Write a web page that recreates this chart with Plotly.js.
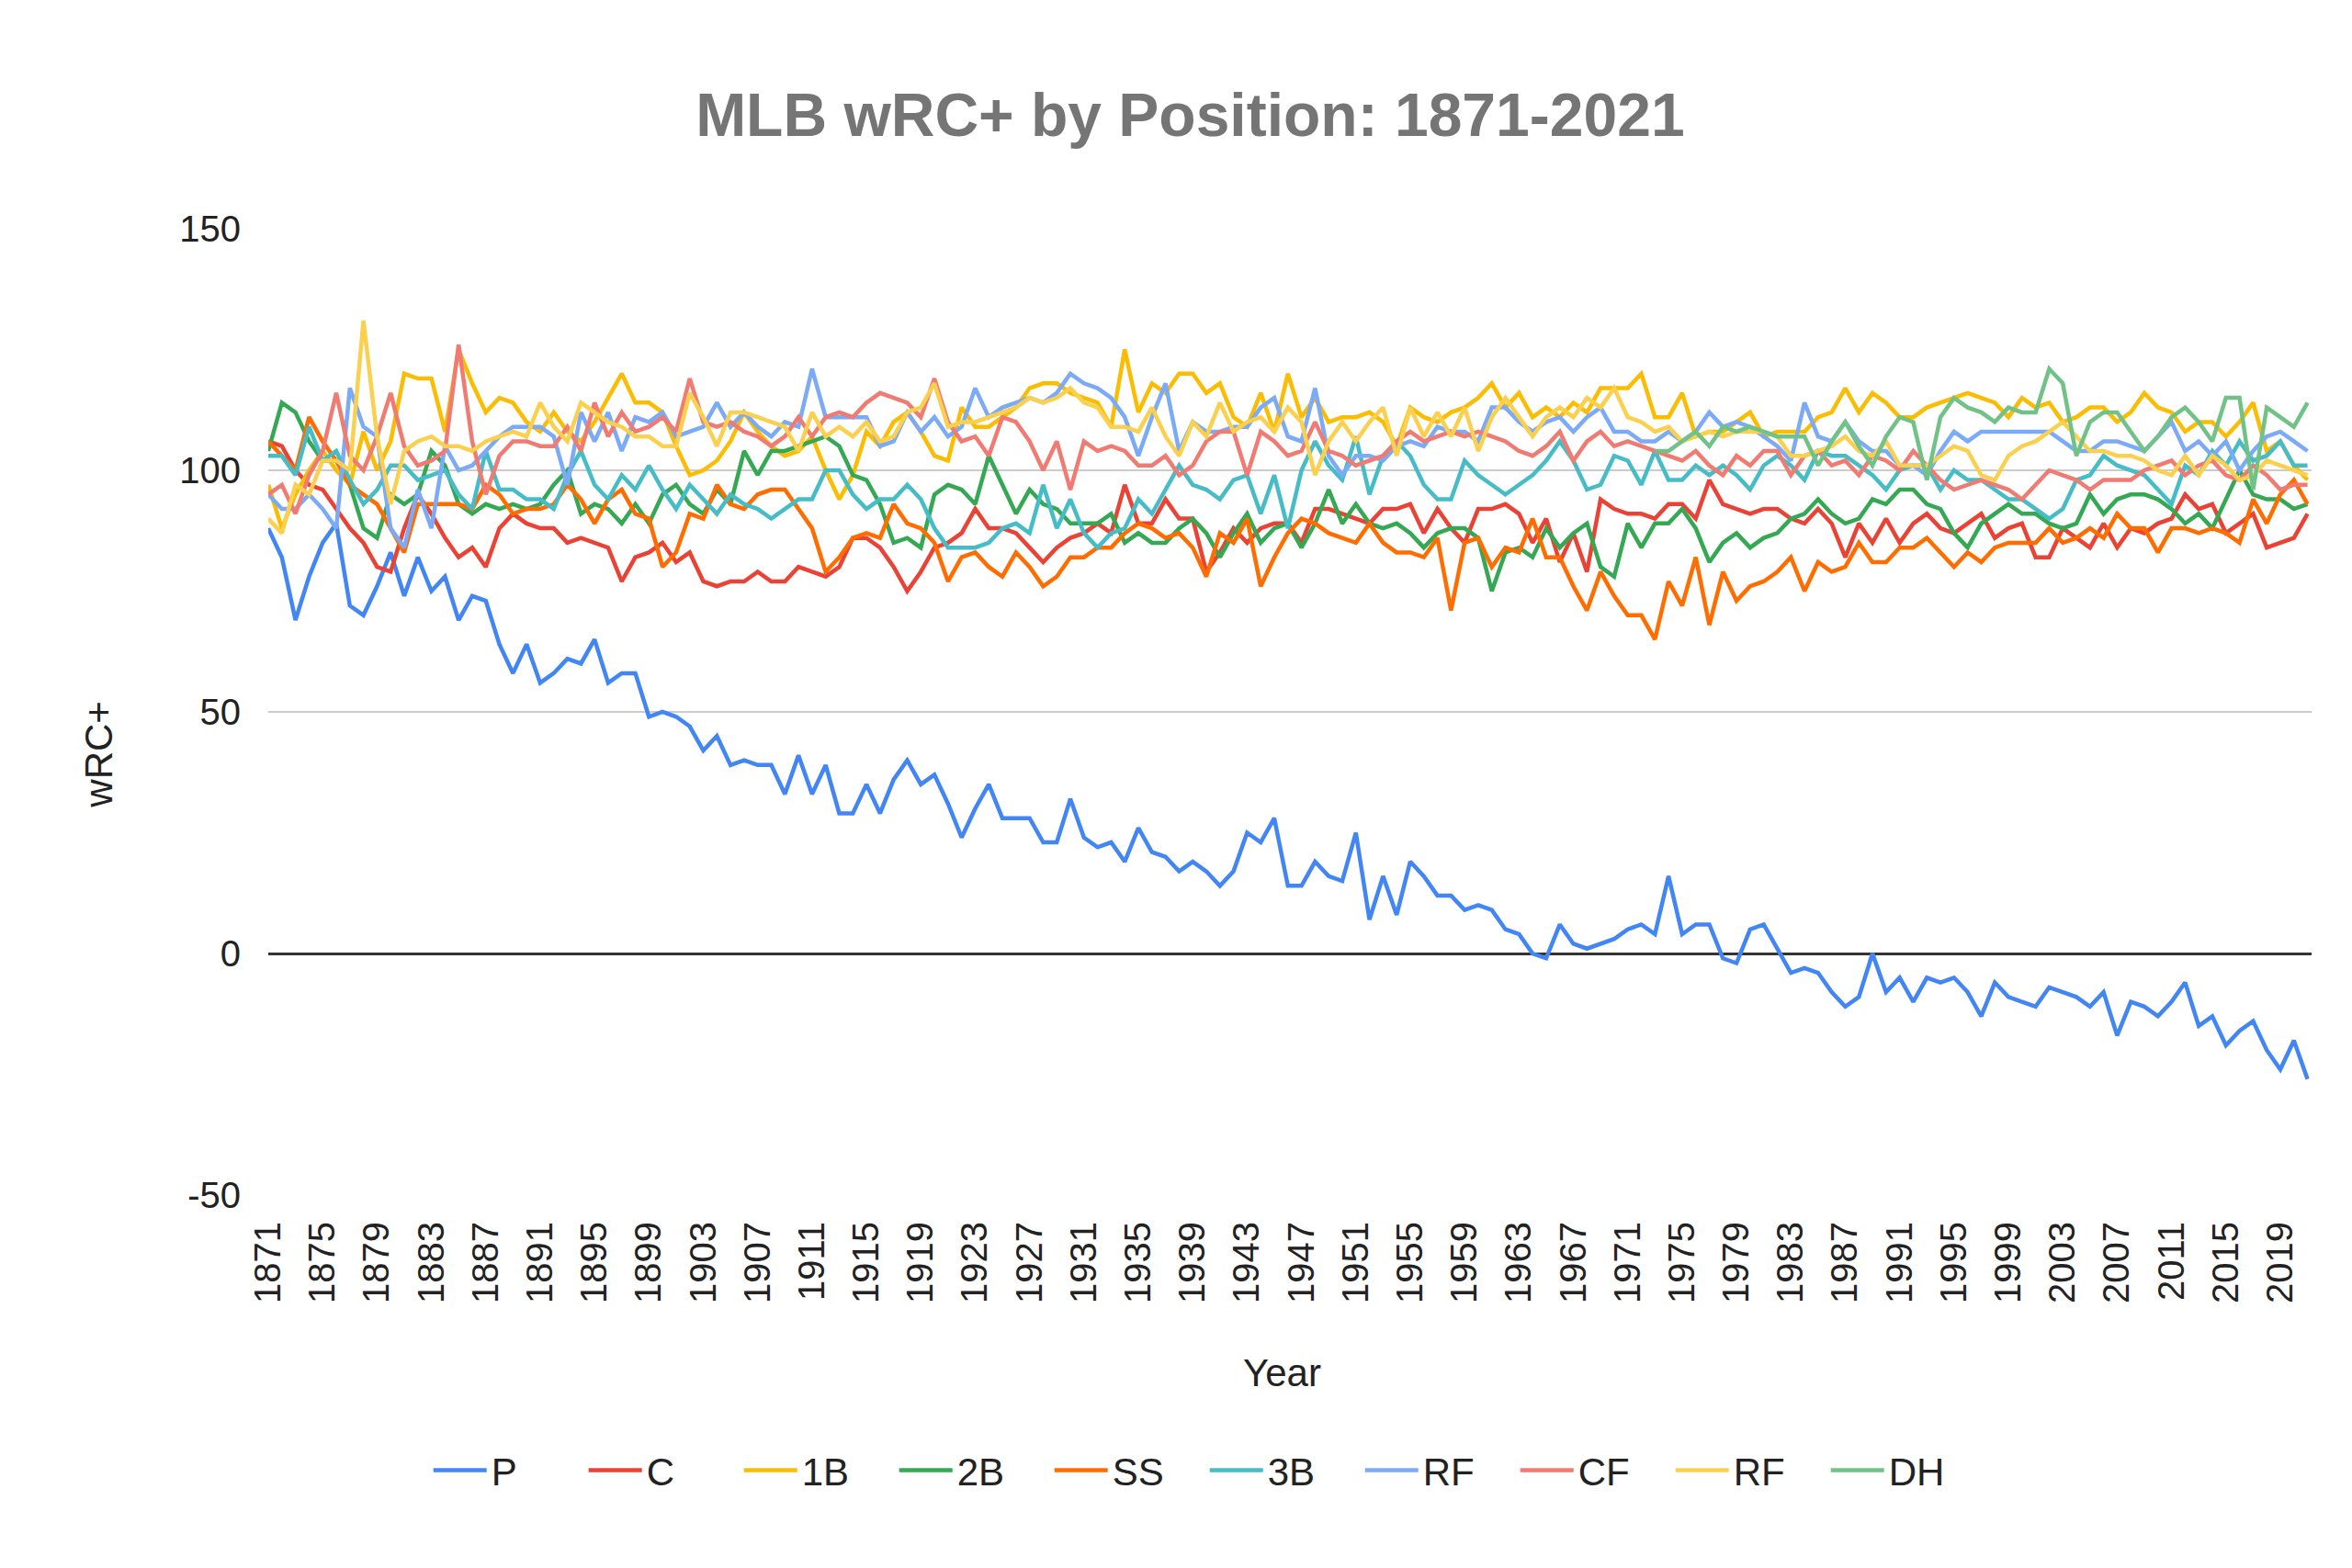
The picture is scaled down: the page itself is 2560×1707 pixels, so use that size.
<!DOCTYPE html>
<html>
<head>
<meta charset="utf-8">
<script src="https://cdn.plot.ly/plotly-3.0.1.min.js"></script>
<style>
  html, body { margin: 0; padding: 0; background: #fff; }
  #chart { width: 2560px; height: 1707px; }
</style>
</head>
<body>
<div id="chart"></div>
<script>
// seasons 1871..2021
var years = [];
for (var yr = 1871; yr <= 2021; yr++) years.push(yr);

var posNames = ['P', 'C', '1B', '2B', 'SS', '3B', 'RF', 'CF', 'RF', 'DH'];
var posColors = ['#4285F4', '#EA4335', '#FBBC04', '#34A853', '#FF6D01',
                 '#46BDC6', '#7BAAF7', '#F07B72', '#FCD04F', '#71C287'];

var yTickVals = [-50, 0, 50, 100, 150];
var yTickText = ['-50', '0', '50', '100', '150'];

var wrcP = [
  88, 82, 69, 78, 85, 89, 72, 70, 76, 83,
  74, 82, 75, 78, 69, 74, 73, 64, 58, 64,
  56, 58, 61, 60, 65, 56, 58, 58, 49, 50,
  49, 47, 42, 45, 39, 40, 39, 39, 33, 41,
  33, 39, 29, 29, 35, 29, 36, 40, 35, 37,
  31, 24, 30, 35, 28, 28, 28, 23, 23, 32,
  24, 22, 23, 19, 26, 21, 20, 17, 19, 17,
  14, 17, 25, 23, 28, 14, 14, 19, 16, 15,
  25, 7, 16, 8, 19, 16, 12, 12, 9, 10,
  9, 5, 4, 0, -1, 6, 2, 1, 2, 3,
  5, 6, 4, 16, 4, 6, 6, -1, -2, 5,
  6, 1, -4, -3, -4, -8, -11, -9, 0, -8,
  -5, -10, -5, -6, -5, -8, -13, -6, -9, -10,
  -11, -7, -8, -9, -11, -8, -17, -10, -11, -13,
  -10, -6, -15, -13, -19, -16, -14, -20, -24, -18, -26
];

var wrcC = [
  106, 105, 100, 97, 96, 92, 88, 85, 80, 79,
  88, 95, 91, 86, 82, 84, 80, 88, 91, 89,
  88, 88, 85, 86, 85, 84, 77, 82, 83, 85,
  81, 83, 77, 76, 77, 77, 79, 77, 77, 80,
  79, 78, 80, 86, 86, 84, 80, 75, 79, 84,
  85, 87, 92, 88, 88, 87, 84, 81, 84, 86,
  87, 89, 87, 97, 89, 89, 94, 90, 90, 79,
  83, 88, 85, 88, 89, 89, 85, 92, 92, 91,
  90, 89, 92, 92, 93, 87, 92, 88, 85, 92,
  92, 93, 91, 85, 90, 81, 87, 79, 94, 92,
  91, 91, 90, 93, 93, 90, 98, 93, 92, 91,
  92, 92, 90, 89, 92, 89, 82, 89, 85, 90,
  85, 89, 91, 88, 87, 89, 91, 86, 88, 89,
  82, 82, 88, 86, 84, 89, 84, 88, 87, 89,
  90, 95, 92, 93, 87, 89, 91, 84, 85, 86, 91
];

var wrc1B = [
  97, 88, 95, 100, 104, 100, 97, 108, 100, 106,
  120, 119, 119, 108, 125, 118, 112, 115, 114, 110,
  108, 112, 108, 106, 110, 115, 120, 114, 114, 112,
  105, 99, 100, 102, 106, 112, 108, 105, 103, 104,
  107, 100, 94, 99, 108, 105, 110, 112, 108, 103,
  102, 113, 109, 109, 111, 113, 117, 118, 118, 116,
  115, 114, 109, 125, 112, 118, 116, 120, 120, 116,
  118, 111, 109, 116, 108, 120, 111, 115, 110, 111,
  111, 112, 110, 105, 113, 111, 110, 112, 113, 115,
  118, 113, 116, 111, 113, 111, 114, 112, 117, 117,
  117, 120, 111, 111, 116, 107, 108, 108, 110, 112,
  107, 108, 108, 108, 111, 112, 117, 112, 116, 114,
  111, 111, 113, 114, 115, 116, 115, 114, 111, 115,
  113, 114, 110, 111, 113, 113, 110, 112, 116, 113,
  112, 108, 110, 110, 107, 110, 114, 104, 106, 101, 98
];

var wrc2B = [
  104, 114, 112, 106, 102, 102, 97, 88, 86, 95,
  93, 95, 104, 101, 93, 91, 93, 92, 93, 92,
  93, 97, 100, 91, 93, 92, 89, 93, 89, 95,
  97, 93, 91, 96, 93, 104, 99, 104, 104, 105,
  106, 107, 105, 99, 98, 93, 85, 86, 84, 95,
  97, 96, 93, 103, 97, 91, 96, 93, 92, 89,
  89, 89, 91, 85, 87, 85, 85, 88, 90, 87,
  82, 87, 91, 85, 88, 89, 84, 89, 96, 89,
  93, 89, 88, 89, 87, 84, 87, 88, 88, 86,
  75, 83, 84, 82, 88, 84, 87, 89, 80, 78,
  89, 84, 89, 89, 92, 88, 81, 85, 87, 84,
  86, 87, 90, 91, 94, 91, 89, 90, 94, 93,
  96, 96, 93, 92, 87, 84, 89, 91, 93, 91,
  91, 89, 88, 89, 95, 91, 94, 95, 95, 94,
  92, 89, 91, 88, 94, 100, 95, 94, 94, 92, 93
];

var wrcSS = [
  106, 103, 100, 111, 106, 102, 97, 95, 93, 88,
  83, 93, 93, 93, 93, 92, 97, 95, 91, 92,
  92, 93, 97, 94, 89, 94, 96, 91, 90, 80,
  83, 91, 90, 97, 93, 92, 95, 96, 96, 92,
  88, 79, 82, 86, 87, 86, 93, 89, 88, 85,
  77, 82, 83, 80, 78, 83, 80, 76, 78, 82,
  82, 84, 84, 87, 89, 88, 86, 87, 84, 78,
  87, 85, 90, 76, 82, 87, 90, 89, 87, 86,
  85, 89, 85, 83, 83, 82, 86, 71, 85, 86,
  80, 84, 83, 90, 82, 82, 76, 71, 79, 74,
  70, 70, 65, 77, 72, 82, 68, 79, 73, 76,
  77, 79, 82, 75, 81, 79, 80, 85, 81, 81,
  84, 84, 86, 83, 80, 83, 81, 84, 85, 85,
  85, 88, 85, 86, 88, 86, 91, 88, 88, 83,
  88, 88, 87, 88, 87, 85, 94, 89, 95, 98, 93
];

var wrc3B = [
  103, 103, 99, 109, 102, 104, 98, 93, 96, 101,
  101, 98, 99, 100, 95, 92, 104, 96, 96, 94,
  94, 92, 99, 104, 97, 94, 99, 96, 101, 96,
  92, 97, 94, 91, 95, 93, 92, 90, 92, 94,
  94, 100, 100, 95, 92, 94, 94, 97, 94, 88,
  84, 84, 84, 85, 88, 89, 87, 97, 88, 94,
  87, 84, 87, 88, 94, 91, 96, 101, 97, 96,
  94, 98, 99, 91, 99, 88, 100, 106, 101, 98,
  107, 95, 103, 106, 103, 97, 94, 94, 102, 99,
  97, 95, 97, 99, 102, 106, 102, 96, 97, 103,
  102, 97, 104, 98, 98, 101, 99, 101, 99, 96,
  101, 103, 101, 98, 104, 103, 103, 101, 99, 96,
  100, 101, 101, 96, 100, 98, 98, 96, 94, 94,
  92, 90, 92, 98, 99, 103, 101, 100, 99, 96,
  93, 101, 99, 104, 101, 106, 102, 103, 106, 101, 101
];

var wrcRF = [
  95, 92, 92, 95, 92, 88, 117, 109, 107, 88,
  84, 96, 88, 105, 100, 101, 104, 107, 109, 109,
  109, 107, 97, 112, 106, 112, 104, 111, 110, 112,
  107, 108, 109, 114, 109, 112, 109, 107, 110, 109,
  121, 111, 111, 111, 111, 105, 106, 112, 108, 111,
  107, 109, 117, 111, 113, 114, 115, 114, 116, 120,
  118, 117, 115, 111, 103, 111, 118, 104, 110, 108,
  108, 109, 109, 113, 115, 107, 106, 117, 103, 99,
  103, 103, 102, 105, 106, 105, 109, 108, 108, 106,
  113, 113, 110, 108, 110, 111, 108, 111, 113, 108,
  108, 106, 106, 108, 106, 108, 112, 109, 110, 109,
  107, 105, 102, 114, 107, 106, 110, 106, 104, 104,
  101, 101, 99, 104, 108, 106, 108, 108, 108, 108,
  108, 108, 106, 104, 104, 106, 106, 105, 104, 107,
  110, 104, 106, 103, 106, 100, 104, 107, 108, 106, 104
];

var wrcCF = [
  95, 97, 91, 99, 104, 116, 103, 100, 107, 116,
  105, 101, 102, 104, 126, 106, 95, 103, 106, 106,
  105, 105, 109, 104, 114, 107, 112, 108, 109, 111,
  108, 119, 110, 109, 110, 108, 107, 105, 107, 111,
  107, 111, 112, 111, 114, 116, 115, 114, 111, 119,
  110, 106, 107, 103, 111, 110, 106, 100, 106, 96,
  106, 104, 105, 104, 101, 101, 103, 99, 101, 106,
  108, 108, 99, 108, 106, 103, 104, 110, 104, 103,
  101, 102, 103, 106, 108, 106, 107, 108, 107, 108,
  107, 106, 104, 103, 105, 108, 102, 106, 108, 105,
  106, 105, 104, 103, 102, 104, 101, 99, 103, 101,
  104, 104, 99, 103, 104, 101, 102, 99, 103, 102,
  100, 104, 101, 98, 96, 97, 98, 97, 96, 94,
  97, 100, 99, 98, 96, 98, 98, 98, 100, 101,
  102, 99, 101, 102, 99, 98, 101, 99, 96, 97, 97
];

var wrcRF2 = [
  90, 87, 97, 95, 102, 102, 100, 131, 107, 93,
  104, 106, 107, 105, 105, 104, 106, 107, 108, 107,
  114, 109, 106, 114, 112, 110, 109, 107, 107, 105,
  105, 116, 111, 105, 112, 112, 111, 110, 109, 104,
  112, 107, 109, 107, 110, 106, 107, 112, 113, 118,
  109, 110, 110, 111, 112, 113, 115, 114, 115, 117,
  114, 113, 109, 109, 108, 113, 107, 103, 110, 107,
  114, 108, 110, 111, 108, 113, 110, 99, 106, 110,
  106, 110, 113, 103, 113, 107, 112, 107, 113, 104,
  111, 115, 111, 107, 111, 113, 111, 115, 113, 117,
  111, 110, 108, 109, 106, 107, 108, 107, 108, 108,
  108, 107, 103, 103, 104, 105, 107, 104, 103, 106,
  101, 101, 101, 103, 105, 104, 99, 98, 103, 105,
  106, 108, 110, 107, 104, 104, 103, 103, 102, 100,
  99, 103, 99, 103, 101, 98, 99, 102, 101, 100, 99
];

// designated hitter only from 1973
var dhFirstYear = 1973;
var wrcDH = [
  104, 104, 106, 108, 105, 109, 108, 109,
  108, 107, 107, 107, 101, 106, 110, 105, 101, 107,
  111, 110, 98, 111, 115, 113, 112, 110, 113, 112,
  112, 121, 118, 103, 110, 112, 112, 108, 104, 107,
  111, 113, 110, 106, 115, 115, 96, 113, 111, 109, 114
];

var series = [wrcP, wrcC, wrc1B, wrc2B, wrcSS, wrc3B, wrcRF, wrcCF, wrcRF2, wrcDH];

var traces = [];
series.forEach(function (vals, i) {
  var xs = (i === 9) ? years.slice(dhFirstYear - 1871) : years;
  traces.push({
    x: xs,
    y: vals,
    type: 'scatter',
    mode: 'lines',
    name: posNames[i],
    showlegend: true,
    line: {color: posColors[i], width: 4.5},
    hoverinfo: 'x+y+name'
  });
});

var font = 'Liberation Sans, Arial, sans-serif';

var layout = {
  width: 2560,
  height: 1707,
  paper_bgcolor: '#ffffff',
  plot_bgcolor: '#ffffff',
  margin: {l: 292, r: 44, t: 249, b: 406},
  font: {family: font, size: 42, color: '#222222'},
  title: {
    text: '<b>MLB wRC+ by Position: 1871-2021</b>',
    font: {family: font, size: 66, color: '#757575'},
    x: 0.506,
    xanchor: 'center',
    y: 0.927,
    yanchor: 'middle'
  },
  xaxis: {
    type: 'linear',
    range: [1871, 2021.3],
    tick0: 1871,
    dtick: 4,
    tickangle: -90,
    showgrid: false,
    zeroline: false,
    showline: false,
    ticks: 'outside',
    ticklen: 12,
    tickcolor: 'rgba(0,0,0,0)',
    tickfont: {family: font, size: 40, color: '#222222'}
  },
  yaxis: {
    range: [-50, 150],
    tickmode: 'array',
    tickvals: yTickVals,
    ticktext: yTickText,
    showgrid: true,
    gridcolor: '#cccccc',
    gridwidth: 2,
    zeroline: true,
    zerolinecolor: '#333333',
    zerolinewidth: 2.5,
    showline: false,
    ticks: 'outside',
    ticklen: 21,
    tickcolor: 'rgba(0,0,0,0)',
    tickfont: {family: font, size: 40, color: '#222222'}
  },
  legend: {
    orientation: 'h',
    x: 0.4585,
    xanchor: 'center',
    y: -0.285,
    yanchor: 'middle',
    font: {family: font, size: 42, color: '#222222'},
    itemwidth: 58,
    entrywidth: 96,
    entrywidthmode: 'pixels'
  },
  annotations: [
    {
      text: 'Year',
      xref: 'paper', yref: 'paper',
      x: 0.496, y: -0.184,
      xanchor: 'center', yanchor: 'middle',
      showarrow: false,
      font: {family: font, size: 42, color: '#222222'}
    },
    {
      text: 'wRC+',
      xref: 'paper', yref: 'paper',
      x: -0.083, y: 0.456,
      xanchor: 'center', yanchor: 'middle',
      textangle: -90,
      showarrow: false,
      font: {family: font, size: 42, color: '#222222'}
    }
  ]
};

Plotly.newPlot('chart', traces, layout, {displayModeBar: false, responsive: false});
</script>
</body>
</html>
